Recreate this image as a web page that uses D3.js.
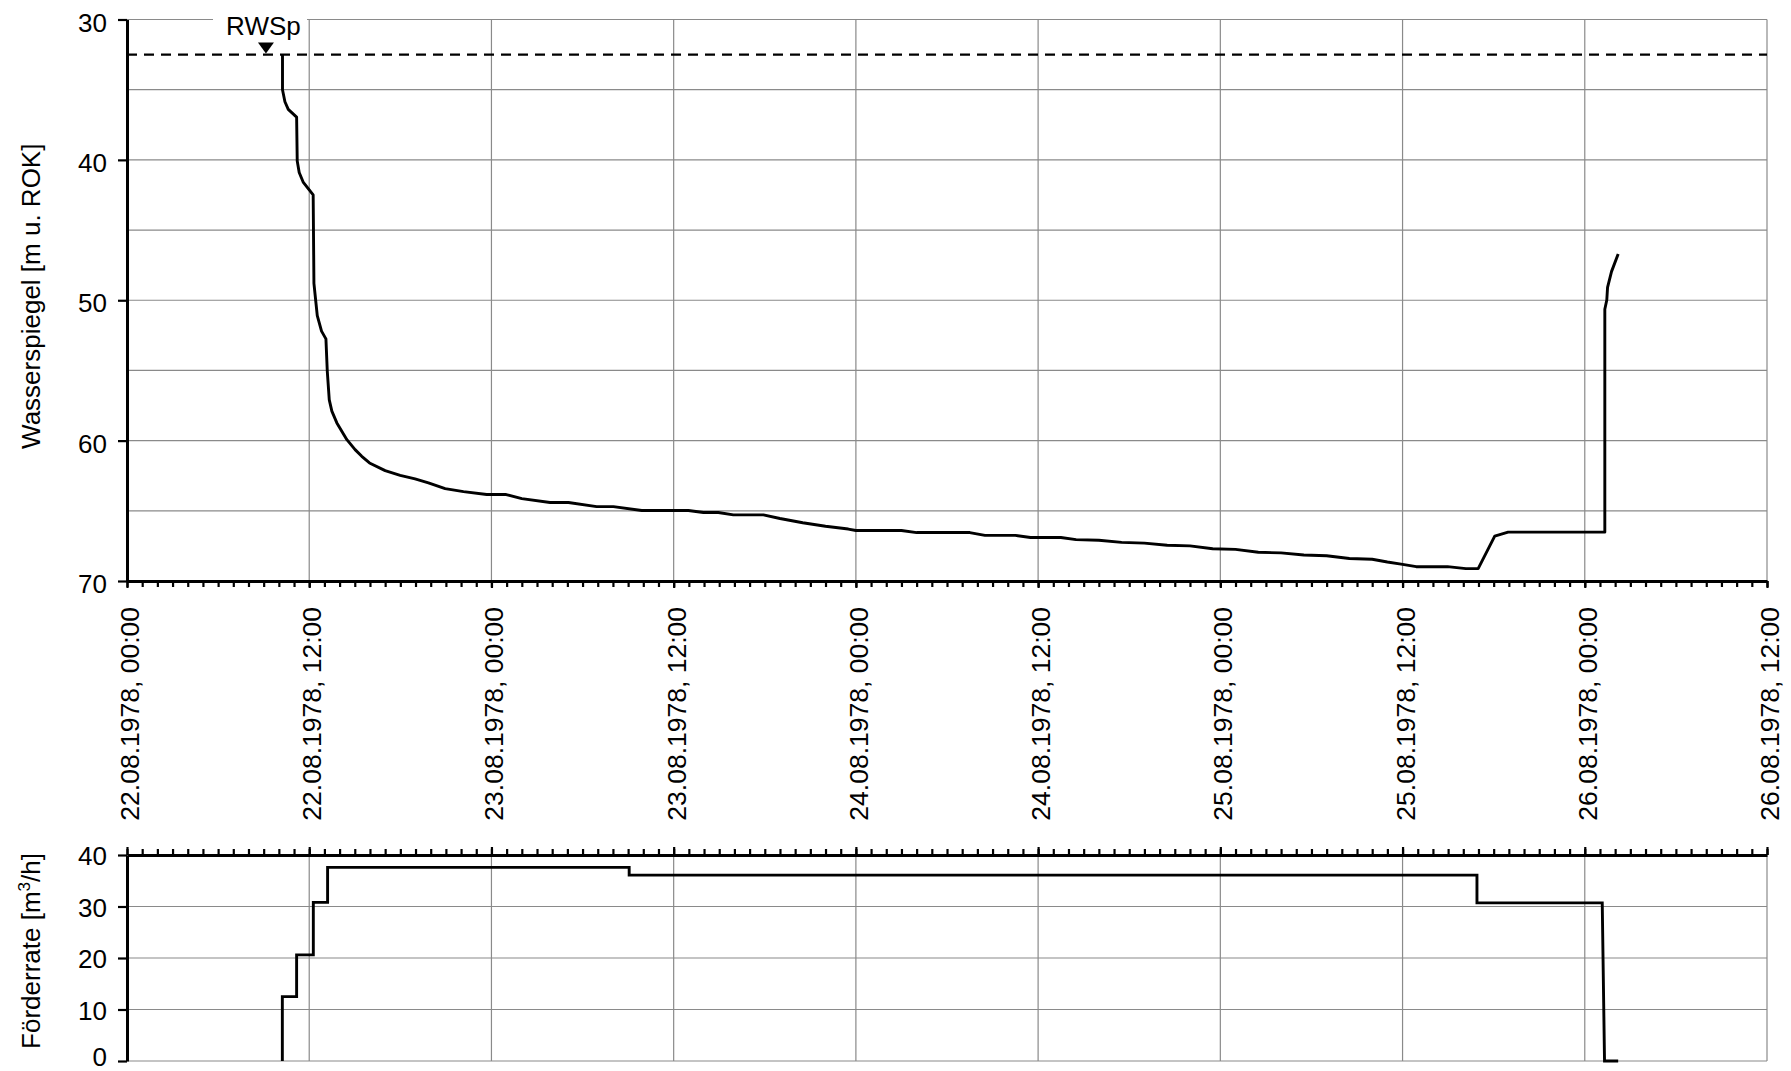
<!DOCTYPE html>
<html>
<head>
<meta charset="utf-8">
<script src="https://cdn.jsdelivr.net/npm/d3@7"></script>
<style>
  html, body { margin: 0; padding: 0; background: #fff; }
  svg { display: block; font-family: Arial, "Liberation Sans", sans-serif; }
</style>
</head>
<body>
<svg id="chart" width="1791" height="1071"></svg>
<script>
// ---------- data (hours since 22.08.1978 00:00) ----------
const startUTC = Date.UTC(1978, 7, 22, 0, 0);
const rangeHours = [0, 108];

// Wasserspiegel [m u. ROK]
const pegelStunden = [10.24, 10.24, 10.40, 10.62, 11.17, 11.21, 11.34, 11.6, 12.26, 12.31, 12.44, 12.53, 12.81, 13.1, 13.19, 13.32, 13.49, 13.82, 14.48, 15.02, 15.46, 15.97, 17.0, 17.99, 18.97, 19.85, 20.95, 22.16, 23.69, 24.97, 26.0, 27.86, 29.07, 30.93, 32.03, 33.9, 36.97, 37.96, 38.94, 39.93, 41.91, 43.0, 44.5, 46.0, 47.5, 48.0, 51.0, 52.0, 55.5, 56.5, 58.5, 59.5, 61.5, 62.5, 64.0, 65.5, 67.0, 68.5, 70.0, 71.5, 73.0, 74.5, 76.0, 77.5, 79.0, 80.5, 82.0, 83.0, 83.9, 84.9, 86.96, 88.17, 88.98, 90.07, 90.95, 97.32, 97.32, 97.45, 97.5, 97.76, 98.2];
const pegelWerte   = [32.5, 35.0, 35.86, 36.4, 36.95, 40.08, 40.9, 41.58, 42.5, 48.8, 50.16, 51.1, 52.2, 52.75, 55.07, 57.1, 57.9, 58.74, 59.93, 60.64, 61.12, 61.59, 62.14, 62.47, 62.73, 63.01, 63.42, 63.63, 63.84, 63.84, 64.13, 64.41, 64.41, 64.7, 64.7, 64.98, 64.98, 65.12, 65.12, 65.29, 65.29, 65.55, 65.85, 66.1, 66.3, 66.4, 66.4, 66.55, 66.55, 66.75, 66.75, 66.9, 66.9, 67.05, 67.1, 67.25, 67.3, 67.45, 67.5, 67.7, 67.75, 67.95, 68.0, 68.15, 68.2, 68.4, 68.45, 68.65, 68.8, 68.98, 68.98, 69.12, 69.12, 66.8, 66.52, 66.52, 50.64, 49.98, 49.08, 47.96, 46.7];

// Förderrate [m³/h]
const foerderStunden = [10.23, 10.23, 11.17, 11.17, 12.27, 12.27, 13.21, 13.21, 33.07, 33.07, 88.9, 88.9, 97.15, 97.3, 98.2];
const foerderWerte   = [0, 12.5, 12.5, 20.6, 20.6, 30.8, 30.8, 37.6, 37.6, 36.1, 36.1, 30.7, 30.7, 0, 0];

// Ruhewasserspiegel
const rwspWert = 32.5;
const rwspStunde = 9.15;
const rwspLabel = "RWSp";

// axes
const pegelTicks = [30, 40, 50, 60, 70];
const pegelGrid = [30, 35, 40, 45, 50, 55, 60, 65, 70];
const foerderTicks = [0, 10, 20, 30, 40];
const foerderGrid = [0, 10, 20, 30];
const pegelTitel = "Wasserspiegel [m u. ROK]";
const foerderTitel = ["Förderrate [m", "3", "/h]"];

// ---------- layout ----------
const t = h => new Date(startUTC + h * 3600e3);
const svg = d3.select("#chart");
const FONT = 26;
const GRID = "#8a8a8a";

const x = d3.scaleUtc().domain(rangeHours.map(t)).range([127, 1767]);
const yTop = d3.scaleLinear().domain([30, 70]).range([19.5, 581]);
const yBot = d3.scaleLinear().domain([0, 40]).range([1061, 855]);

const majorTimes = d3.utcHour.every(12).range(t(0), t(108.01));
const minorTimes = d3.utcHour.every(1).range(t(0), t(108.01));
const fmt = d3.utcFormat("%d.%m.%Y, %H:%M");

// ---------- grids ----------
const grid = svg.append("g").attr("stroke", GRID).attr("stroke-width", 1.2).attr("fill", "none");
grid.selectAll(".hgTop").data(pegelGrid).join("line")
  .attr("class", "hgTop")
  .attr("x1", x.range()[0]).attr("x2", x.range()[1])
  .attr("y1", d => yTop(d)).attr("y2", d => yTop(d));
grid.selectAll(".vgTop").data(majorTimes.slice(1)).join("line")
  .attr("class", "vgTop")
  .attr("x1", d => x(d)).attr("x2", d => x(d))
  .attr("y1", yTop(30)).attr("y2", yTop(70));
grid.selectAll(".hgBot").data(foerderGrid).join("line")
  .attr("class", "hgBot")
  .attr("x1", x.range()[0]).attr("x2", x.range()[1])
  .attr("y1", d => yBot(d)).attr("y2", d => yBot(d));
grid.selectAll(".vgBot").data(majorTimes.slice(1)).join("line")
  .attr("class", "vgBot")
  .attr("x1", d => x(d)).attr("x2", d => x(d))
  .attr("y1", yBot(40)).attr("y2", yBot(0));

// ---------- RWSp label with white background ----------
svg.append("rect").attr("x", 213).attr("y", 8).attr("width", 94).attr("height", 24).attr("fill", "#fff");
svg.append("text").attr("x", x(t(rwspStunde)) - 2.5).attr("y", 35)
  .attr("text-anchor", "middle").attr("font-size", FONT).attr("fill", "#000").text(rwspLabel);
const tx = x(t(rwspStunde)), ty = yTop(rwspWert) - 1;
svg.append("path").attr("d", `M${tx - 8},${ty - 11} L${tx + 8},${ty - 11} L${tx},${ty} Z`).attr("fill", "#000");

// dashed RWSp line
svg.append("line")
  .attr("x1", x.range()[0]).attr("x2", x.range()[1])
  .attr("y1", yTop(rwspWert)).attr("y2", yTop(rwspWert))
  .attr("stroke", "#000").attr("stroke-width", 2.3).attr("stroke-dasharray", "10,7");

// ---------- data lines ----------
const pegel = pegelStunden.map((h, i) => [h, pegelWerte[i]]);
const foerder = foerderStunden.map((h, i) => [h, foerderWerte[i]]);

svg.append("path").datum(pegel)
  .attr("fill", "none").attr("stroke", "#000").attr("stroke-width", 2.9).attr("stroke-linejoin", "round")
  .attr("d", d3.line().x(d => x(t(d[0]))).y(d => yTop(d[1])));
svg.append("path").datum(foerder)
  .attr("fill", "none").attr("stroke", "#000").attr("stroke-width", 2.9).attr("stroke-linejoin", "miter")
  .attr("d", d3.line().x(d => x(t(d[0]))).y(d => yBot(d[1])));

// ---------- axes ----------
function styleAxis(g) {
  g.select(".domain").attr("stroke", "#000").attr("stroke-width", 3);
  g.selectAll(".tick line").attr("stroke", "#000").attr("stroke-width", 2.2);
  g.selectAll("text").attr("font-size", FONT).attr("fill", "#000").attr("font-family", 'Arial, "Liberation Sans", sans-serif');
}

// top chart y axis
const gyTop = svg.append("g").attr("transform", `translate(${x.range()[0]},0)`)
  .call(d3.axisLeft(yTop).tickValues(pegelTicks).tickSize(9).tickSizeOuter(0).tickPadding(11));
styleAxis(gyTop);
gyTop.selectAll("text").attr("dy", "0.45em");

// top chart x axis: minor hour ticks
const gxTopMinor = svg.append("g").attr("transform", `translate(0,${yTop(70)})`)
  .call(d3.axisBottom(x).tickValues(minorTimes).tickSize(6).tickSizeOuter(0).tickFormat(""));
styleAxis(gxTopMinor);
// labels every 12 h
const gxTopLab = svg.append("g").attr("transform", `translate(0,${yTop(70)})`)
  .call(d3.axisBottom(x).tickValues(majorTimes).tickSize(7).tickSizeOuter(0).tickFormat(fmt));
styleAxis(gxTopLab);
gxTopLab.select(".domain").remove();
gxTopLab.selectAll("text")
  .attr("font-size", 26.5)
  .attr("transform", "rotate(-90)")
  .attr("x", -26).attr("y", 0).attr("dy", 11.5)
  .attr("text-anchor", "end");

// bottom chart y axis
const gyBot = svg.append("g").attr("transform", `translate(${x.range()[0]},0)`)
  .call(d3.axisLeft(yBot).tickValues(foerderTicks).tickSize(9).tickSizeOuter(0).tickPadding(11));
styleAxis(gyBot);
gyBot.selectAll("text").attr("dy", "0.38em");
gyBot.selectAll("text").filter(d => d === 0).attr("dy", 4.5);

// bottom chart x axis at top (value 40)
const gxBotMinor = svg.append("g").attr("transform", `translate(0,${yBot(40)})`)
  .call(d3.axisTop(x).tickValues(minorTimes).tickSize(6).tickSizeOuter(0).tickFormat(""));
styleAxis(gxBotMinor);
const gxBotMajor = svg.append("g").attr("transform", `translate(0,${yBot(40)})`)
  .call(d3.axisTop(x).tickValues(majorTimes).tickSize(8).tickSizeOuter(0).tickFormat(""));
styleAxis(gxBotMajor);
gxBotMajor.select(".domain").remove();

// ---------- axis titles ----------
svg.append("text")
  .attr("transform", `translate(40,${(yTop(30) + yTop(70)) / 2 - 4}) rotate(-90)`)
  .attr("text-anchor", "middle").attr("font-size", FONT).attr("fill", "#000")
  .text(pegelTitel);

const ft = svg.append("text")
  .attr("transform", `translate(40,951) rotate(-90)`)
  .attr("text-anchor", "middle").attr("font-size", FONT).attr("fill", "#000");
ft.append("tspan").text(foerderTitel[0]);
ft.append("tspan").attr("font-size", 17).attr("dy", -10).text(foerderTitel[1]);
ft.append("tspan").attr("dy", 10).text(foerderTitel[2]);
</script>
</body>
</html>
